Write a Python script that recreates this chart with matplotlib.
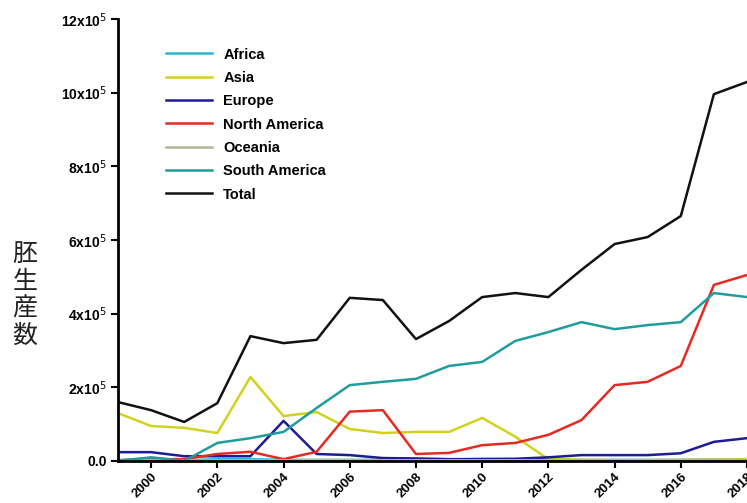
import matplotlib
matplotlib.use("Agg")
import matplotlib.pyplot as plt
from matplotlib.ticker import FixedLocator

years = list(range(1999, 2019))

# embryo production per region (units of 10^5)
africa = [0.02, 0.08, 0.02, 0.05, 0.05, 0.03, 0.03, 0.03, 0.03, 0.03, 0.04, 0.06, 0.05, 0.05, 0.03, 0.03, 0.03, 0.03, 0.04, 0.05]
asia = [1.30, 0.95, 0.90, 0.76, 2.28, 1.22, 1.33, 0.87, 0.76, 0.79, 0.79, 1.17, 0.66, 0.05, 0.03, 0.02, 0.02, 0.03, 0.04, 0.05]
europe = [0.24, 0.24, 0.13, 0.13, 0.13, 1.09, 0.19, 0.16, 0.08, 0.07, 0.05, 0.05, 0.06, 0.10, 0.16, 0.16, 0.16, 0.21, 0.52, 0.62]
north_america = [0.02, 0.05, 0.05, 0.19, 0.25, 0.05, 0.25, 1.34, 1.38, 0.19, 0.22, 0.43, 0.49, 0.71, 1.11, 2.06, 2.15, 2.58, 4.78, 5.05]
oceania = [0.01, 0.02, 0.01, 0.02, 0.02, 0.02, 0.02, 0.02, 0.02, 0.02, 0.02, 0.02, 0.02, 0.02, 0.02, 0.02, 0.02, 0.02, 0.03, 0.03]
south_america = [0.00, 0.10, 0.00, 0.49, 0.62, 0.79, 1.44, 2.06, 2.15, 2.23, 2.58, 2.69, 3.26, 3.50, 3.77, 3.58, 3.69, 3.77, 4.56, 4.45]
total = [1.60, 1.38, 1.06, 1.57, 3.39, 3.20, 3.29, 4.43, 4.37, 3.31, 3.80, 4.45, 4.56, 4.45, 5.19, 5.89, 6.08, 6.65, 9.96, 10.29]

series = [
    ("Africa", africa, "#2ab4d2"),
    ("Asia", asia, "#d2d21e"),
    ("Europe", europe, "#1c1c96"),
    ("North America", north_america, "#e62a22"),
    ("Oceania", oceania, "#b4b496"),
    ("South America", south_america, "#1f9c9c"),
    ("Total", total, "#111111"),
]

ytick_vals = [0, 2, 4, 6, 8, 10, 12]
ytick_labels = ["0.0", "2x10$^5$", "4x10$^5$", "6x10$^5$", "8x10$^5$", "10x10$^5$", "12x10$^5$"]
xtick_vals = list(range(2000, 2019, 2))

fig = plt.figure(figsize=(7.47, 5.03), dpi=100)
ax = fig.add_axes([118 / 747, 1 - 461 / 503, 1 - 118 / 747, (461 - 19) / 503])

for name, vals, color in series:
    ax.plot(years, [v * 1e5 for v in vals], color=color, lw=1.8, label=name, clip_on=True)

ax.set_xlim(1999, 2018)
ax.set_ylim(0, 12e5)
ax.yaxis.set_major_locator(FixedLocator([v * 1e5 for v in ytick_vals]))
ax.set_yticklabels(ytick_labels, fontfamily="Liberation Sans", fontweight="bold", fontsize=10)
ax.xaxis.set_major_locator(FixedLocator(xtick_vals))
ax.set_xticklabels([str(y) for y in xtick_vals], rotation=45, ha="right",
                   rotation_mode="anchor", fontfamily="Liberation Sans",
                   fontweight="bold", fontsize=9.5)

for side in ("top", "right"):
    ax.spines[side].set_visible(False)
for side in ("left", "bottom"):
    ax.spines[side].set_linewidth(2)
ax.tick_params(axis="both", width=1.5, length=5, direction="out")
ax.tick_params(axis="y", pad=3)
ax.tick_params(axis="x", pad=2)

fig.text(25 / 747, 1 - 295 / 503, "胚\n生\n産\n数", fontfamily="Noto Sans CJK JP",
         fontsize=18, ha="center", va="center", linespacing=1.05, color="#222222")

leg = ax.legend(loc="upper left", bbox_to_anchor=(0.055, 0.965), frameon=False,
                prop={"family": "Liberation Sans", "weight": "bold", "size": 10.5},
                handlelength=3.2, handletextpad=0.75, labelspacing=0.64)

fig.savefig("out.png", dpi=100)
